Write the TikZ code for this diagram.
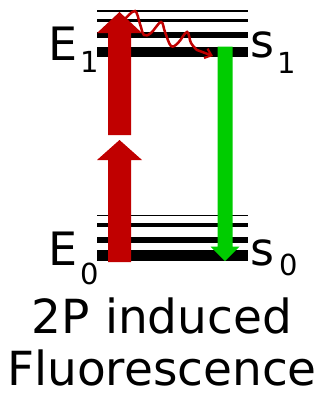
\documentclass[tikz,border=0pt]{standalone}
\usepackage{fontspec}
\setmainfont{DejaVu Sans}
\usetikzlibrary{arrows.meta}
\definecolor{exred}{HTML}{C00000}
\definecolor{emgreen}{HTML}{00CC00}
\tikzset{
  level/.style={draw=black, line cap=butt},
  redblock/.style={fill=exred, draw=none},
  greenblock/.style={fill=emgreen, draw=none},
  lbl/.style={inner sep=0pt, anchor=base west, font=\fontsize{46}{46}\selectfont},
  captext/.style={inner sep=0pt, anchor=base, font=\fontsize{47}{52}\selectfont},
  wave/.style={draw=exred, line width=2.5pt, -{Straight Barb[length=6pt,width=10pt,line width=2.2pt]}}
}
\newcommand{\sbs}[2]{\raisebox{-#1pt}{\fontsize{29}{29}\selectfont #2}}
\begin{document}
\begin{tikzpicture}[x=1pt,y=-1pt]
\useasboundingbox (0,0) rectangle (323,397);
% upper levels
\draw[level, line width=1.7pt] (97,11) -- (248,11);
\draw[level, line width=3pt] (97,20.8) -- (248,20.8);
\draw[level, line width=6.5pt] (97,35) -- (248,35);
\draw[level, line width=10pt] (97,51.7) -- (248,51.7);
% lower levels
\draw[level, line width=1.8pt] (97,215.4) -- (248,215.4);
\draw[level, line width=3.3pt] (97,225) -- (248,225);
\draw[level, line width=6.7pt] (97,240) -- (248,240);
\draw[level, line width=11.5pt] (97,255.3) -- (248,255.3);
% lower red arrow
\fill[redblock] (108,262) -- (108,160) -- (97,160) -- (119.5,140) -- (142,160) -- (131,160) -- (131,262) -- cycle;
% upper red arrow
\fill[redblock] (108,135) -- (108,33) -- (97,33) -- (119.5,12) -- (142,33) -- (131,33) -- (131,135) -- cycle;
% green arrow
\fill[greenblock] (217.5,46.7) -- (232.5,46.7) -- (232.5,246.7) -- (239.5,246.7) -- (225,261) -- (210.5,246.7) -- (217.5,246.7) -- cycle;
% wavy relaxation
\draw[wave] plot[smooth, tension=0.6] coordinates {(125,19) (135,11) (140,24) (144,35) (151,33) (161,22) (165,32) (171,46) (178,43) (187,32) (191,43) (197,50)} -- (213,56);
% labels
\node[lbl] (E1) at (48,60) {E\hspace{3pt}\sbs{12}{1}};
\node[lbl] (E0) at (48,265) {E\hspace{3pt}\sbs{19}{0}};
\node[lbl] (S1) at (250,57) {s\hspace{3pt}\sbs{16}{1}};
\node[lbl] (S0) at (250,265) {s\hspace{5pt}\sbs{10}{0}};
\node[captext] (t1) at (162,333) {2P induced};
\node[captext] (t2) at (162,385) {Fluorescence};
\end{tikzpicture}
\end{document}
